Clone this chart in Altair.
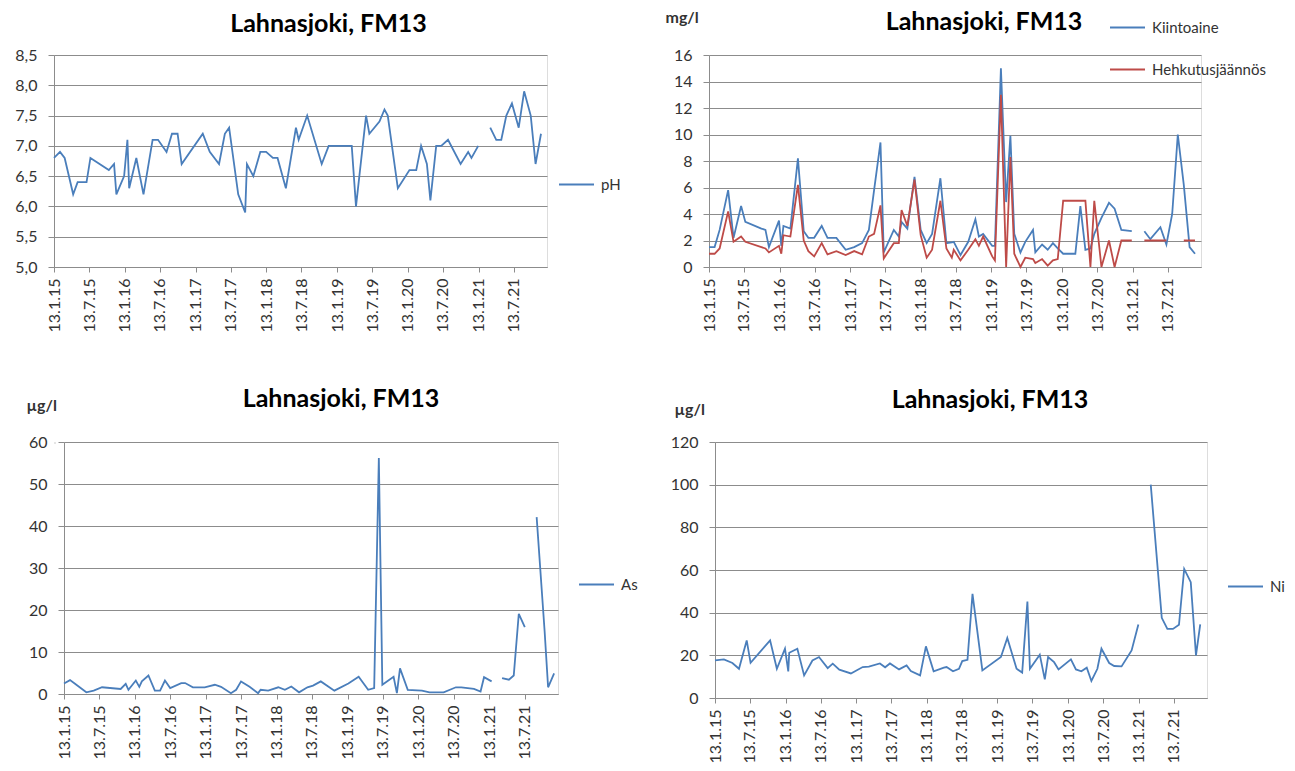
import altair as alt
import pandas as pd

# ---------------- pH ----------------
ph_dates = [
    "2015-01-13", "2015-02-13", "2015-03-09", "2015-04-22", "2015-05-15", "2015-06-30", "2015-07-20", "2015-10-23", "2015-11-19", "2015-12-01",
    "2016-01-10", "2016-01-27", "2016-02-05", "2016-03-13", "2016-04-19", "2016-06-05", "2016-07-03", "2016-08-16", "2016-09-13", "2016-10-12",
    "2016-11-02", "2017-02-19", "2017-03-27", "2017-05-14", "2017-06-13", "2017-07-05", "2017-08-21", "2017-09-26", "2017-10-05", "2017-11-07",
    "2017-12-13", "2018-01-12", "2018-02-16", "2018-03-12", "2018-04-24", "2018-06-15", "2018-06-29", "2018-08-12", "2018-10-26", "2018-12-01",
    "2019-03-30", "2019-04-21", "2019-06-12", "2019-06-29", "2019-08-20", "2019-09-15", "2019-10-02", "2019-11-23", "2020-01-22", "2020-02-26",
    "2020-03-22", "2020-04-21", "2020-05-09", "2020-06-08", "2020-07-04", "2020-08-08", "2020-10-12", "2020-11-20", "2020-12-07", "2021-01-11",
    "2021-02-10",
    "2021-03-14", "2021-04-14", "2021-05-10", "2021-06-05", "2021-07-04", "2021-08-08", "2021-09-05", "2021-10-09", "2021-11-03", "2021-12-01",
]
ph_values = [
    6.8, 6.9, 6.8, 6.2, 6.4, 6.4, 6.8, 6.6, 6.7, 6.2,
    6.5, 7.1, 6.3, 6.8, 6.2, 7.1, 7.1, 6.9, 7.2, 7.2,
    6.7, 7.2, 6.9, 6.7, 7.2, 7.3, 6.2, 5.9, 6.7, 6.5,
    6.9, 6.9, 6.8, 6.8, 6.3, 7.3, 7.1, 7.5, 6.7, 7.0,
    7.0, 6.0, 7.5, 7.2, 7.4, 7.6, 7.5, 6.3, 6.6, 6.6,
    7.0, 6.7, 6.1, 7.0, 7.0, 7.1, 6.7, 6.9, 6.8, 7.0,
    None,
    7.3, 7.1, 7.1, 7.5, 7.7, 7.3, 7.9, 7.5, 6.7, 7.2,
]

# ------- Kiintoaine / Hehkutusjäännös (mg/l) -------
solids_dates = [
    "2015-01-13", "2015-02-11", "2015-03-09", "2015-04-22", "2015-05-20", "2015-06-28", "2015-07-20", "2015-10-11", "2015-11-01", "2015-11-19",
    "2016-01-10", "2016-01-22", "2016-02-02", "2016-03-09", "2016-04-17", "2016-05-17", "2016-06-10", "2016-07-10", "2016-08-18", "2016-09-17",
    "2016-11-02", "2016-12-20", "2017-02-02", "2017-03-15", "2017-04-19", "2017-05-16", "2017-06-18", "2017-07-05", "2017-08-26", "2017-09-21",
    "2017-10-05", "2017-11-04", "2017-12-11", "2018-01-12", "2018-02-12", "2018-03-12", "2018-04-24", "2018-05-25", "2018-06-22", "2018-07-02",
    "2018-08-06", "2018-09-15", "2018-10-22", "2018-11-09", "2018-12-01", "2019-01-17", "2019-01-31", "2019-03-03", "2019-03-30", "2019-04-21",
    "2019-05-11", "2019-06-12", "2019-07-07", "2019-08-16", "2019-08-28", "2019-10-02", "2019-10-31", "2019-11-27", "2019-12-22", "2020-01-19",
    "2020-03-22", "2020-04-17", "2020-05-13", "2020-06-08", "2020-06-28", "2020-08-04", "2020-09-12", "2020-10-11", "2020-11-15", "2021-01-08",
    "2021-02-10", "2021-03-14", "2021-04-14", "2021-06-05", "2021-07-06", "2021-08-05", "2021-09-03", "2021-10-04", "2021-11-03", "2021-12-01",
]
kiintoaine = [
    1.5, 1.5, 2.8, 5.8, 2.2, 4.6, 3.4, 2.9, 2.8, 1.5,
    3.5, 1.6, 3.1, 2.9, 8.2, 2.7, 2.2, 2.2, 3.1, 2.2,
    2.2, 1.3, 1.5, 1.8, 2.8, 5.8, 9.4, 1.1, 2.8, 2.3,
    3.4, 2.9, 6.8, 2.8, 1.8, 2.5, 6.7, 1.8, 1.85, 1.9,
    0.9, 1.9, 3.6, 2.3, 2.5, 1.6, 1.6, 15.0, 4.9, 9.9,
    2.5, 1.1, 1.9, 2.8, 1.1, 1.7, 1.3, 1.8, 1.4, 1.0,
    1.0, 4.6, 1.3, 1.4, 2.5, 3.7, 4.85, 4.4, 2.8, 2.7,
    None, 2.7, 2.1, 3.0, 1.7, 4.0, 10.0, 6.2, 1.5, 1.0,
]
hehkutusjaannos = [
    1.0, 1.0, 1.4, 4.2, 1.9, 2.3, 1.9, 1.5, 1.4, 1.1,
    1.6, 1.0, 2.4, 2.3, 6.2, 2.0, 1.2, 0.8, 1.8, 0.95,
    1.2, 0.9, 1.2, 0.95, 2.3, 2.5, 4.65, 0.65, 1.8, 1.8,
    4.3, 3.1, 6.6, 2.4, 0.7, 1.3, 5.0, 1.4, 0.7, 1.3,
    0.5, 1.3, 2.1, 1.6, 2.3, 0.8, 0.5, 13.0, 0.0, 8.3,
    1.0, 0.0, 0.7, 0.6, 0.3, 0.6, 0.1, 0.5, 0.6, 5.0,
    5.0, 5.0, 5.0, 0.0, 5.0, 0.0, 2.0, 0.0, 2.0, 2.0,
    None, 2.0, 2.0, 2.0, 2.0, None, None, 2.0, 2.0, 2.0,
]

# ---------------- As (µg/l) ----------------
as_dates = [
    "2015-01-13", "2015-02-13", "2015-03-09", "2015-05-08", "2015-06-15", "2015-07-28", "2015-11-01", "2015-11-27", "2015-12-11", "2016-01-18",
    "2016-02-05", "2016-02-18", "2016-03-23", "2016-04-25", "2016-05-22", "2016-06-16", "2016-07-13", "2016-09-08", "2016-09-28", "2016-11-07",
    "2017-01-07", "2017-02-28", "2017-04-01", "2017-05-22", "2017-06-18", "2017-07-13", "2017-08-26", "2017-10-09", "2017-10-22", "2017-11-30",
    "2018-01-21", "2018-02-24", "2018-03-29", "2018-05-08", "2018-06-20", "2018-07-19", "2018-08-28", "2018-11-06", "2019-01-17", "2019-03-11",
    "2019-04-29", "2019-05-30", "2019-06-23", "2019-07-11", "2019-09-07", "2019-09-24", "2019-10-10", "2019-11-19", "2020-01-31", "2020-03-10",
    "2020-05-22", "2020-07-24", "2020-08-21", "2020-10-25", "2020-11-28", "2020-12-16", "2021-01-24", "2021-02-20", "2021-03-19", "2021-04-23",
    "2021-05-18", "2021-06-13", "2021-07-14", "2021-08-10", "2021-09-13", "2021-10-24", "2021-11-11", "2021-12-12",
]
as_values = [
    2.5, 3.3, 2.5, 0.4, 0.8, 1.6, 1.2, 2.4, 1.0, 3.2,
    1.7, 3.0, 4.4, 0.8, 0.8, 3.2, 1.4, 2.6, 2.6, 1.6,
    1.6, 2.2, 1.7, 0.2, 1.0, 3.0, 1.7, 0.2, 1.0, 0.8,
    1.6, 1.0, 1.8, 0.4, 1.6, 2.0, 3.0, 0.8, 2.5, 4.1,
    1.0, 1.4, 56.2, 2.2, 4.1, 0.2, 6.1, 1.0, 0.8, 0.4,
    0.4, 1.6, 1.6, 1.2, 0.6, 4.0, 3.0, None, 3.8, 3.4,
    4.4, 19.1, 15.9, None, 42.1, 15.0, 1.6, 4.9,
]

# ---------------- Ni (µg/l) ----------------
ni_dates = [
    "2015-01-13", "2015-02-28", "2015-04-13", "2015-05-17", "2015-06-26", "2015-07-16", "2015-10-25", "2015-11-29", "2016-01-10", "2016-01-27",
    "2016-02-01", "2016-03-14", "2016-04-18", "2016-05-31", "2016-07-04", "2016-08-18", "2016-09-13", "2016-10-17", "2016-12-16", "2017-02-15",
    "2017-03-19", "2017-05-15", "2017-06-11", "2017-07-06", "2017-08-22", "2017-09-30", "2017-10-22", "2017-12-09", "2018-01-08", "2018-02-17",
    "2018-04-11", "2018-04-25", "2018-05-28", "2018-06-28", "2018-07-15", "2018-08-11", "2018-09-06", "2018-10-27", "2019-01-31", "2019-03-05",
    "2019-04-22", "2019-05-21", "2019-06-17", "2019-06-30", "2019-08-20", "2019-09-15", "2019-10-02", "2019-11-02", "2019-11-25", "2020-01-28",
    "2020-02-23", "2020-03-22", "2020-04-19", "2020-05-13", "2020-06-13", "2020-07-04", "2020-08-13", "2020-09-08", "2020-10-16", "2020-12-07",
    "2021-01-11", "2021-02-10", "2021-03-16", "2021-05-12", "2021-06-10", "2021-07-09", "2021-08-09", "2021-09-05", "2021-10-09", "2021-11-05",
    "2021-11-27",
]
ni_values = [
    17.6, 18.1, 16.4, 13.7, 27.0, 16.5, 27.0, 13.7, 23.1, 12.5,
    21.2, 23.1, 10.6, 17.6, 19.2, 14.0, 16.1, 13.3, 11.5, 14.5,
    14.7, 16.2, 14.4, 16.2, 13.4, 15.3, 12.6, 10.6, 24.2, 12.5,
    14.2, 14.5, 12.5, 13.7, 17.3, 17.9, 48.8, 12.9, 19.2, 28.1,
    13.7, 11.9, 45.2, 13.7, 20.3, 8.7, 19.2, 16.8, 13.4, 18.1,
    13.4, 12.5, 14.2, 8.0, 13.7, 23.1, 16.4, 15.0, 14.8, 22.3,
    34.5, None, 100.0, 37.6, 32.4, 32.4, 34.3, 60.5, 54.3, 20.0,
    34.5,
]

TITLE = "Lahnasjoki, FM13"
BLUE = "#4a7ebb"
RED = "#be4b48"
GRID = "#8c8c8c"
TEXT = "#333333"
FONT = "Lato"
LABEL_SIZE = 16

# x axis: ticks on the 13th of January and July
tick_values = [alt.DateTime(year=y, month=m, date=13) for y in range(2015, 2022) for m in (1, 7)]
x_domain = [alt.DateTime(year=2015, month=1, date=13), alt.DateTime(year=2022, month=1, date=1)]


def frame(dates, **series):
    rows = []
    for name, values in series.items():
        for d, v in zip(dates, values):
            rows.append({"date": d, "series": name, "value": v})
    return pd.DataFrame(rows)


def panel(df, names, colors, y_domain, y_values, width, height, title_dx, title_dy,
          legend_x, legend_y, y_title=None, y_title_x=0, y_title_y=0,
          label_expr=None, legend_row_padding=0):
    x = alt.X(
        "date:T",
        scale=alt.Scale(domain=x_domain, nice=False),
        axis=alt.Axis(
            values=tick_values, format="%-d.%-m.%y", labelAngle=270,
            title=None, grid=False, tickSize=5, tickColor=GRID, domainColor=GRID,
            labelFontSize=LABEL_SIZE, labelColor=TEXT, labelPadding=6, labelOverlap=False,
            labelFont=FONT,
        ),
    )
    y_axis = dict(
        values=y_values, grid=True, gridColor=GRID, gridWidth=1.2,
        tickSize=6, tickColor=GRID, domainColor=GRID,
        labelFontSize=LABEL_SIZE, labelColor=TEXT, labelPadding=11, labelFont=FONT,
    )
    if label_expr:
        y_axis["labelExpr"] = label_expr
    if y_title:
        y_axis.update(
            title=y_title, titleAngle=0, titleAlign="left", titleBaseline="middle",
            titleX=y_title_x, titleY=y_title_y, titleFontSize=16, titleFont=FONT,
            titleFontWeight="bold", titleColor=TEXT,
        )
    else:
        y_axis["title"] = None
    y = alt.Y(
        "value:Q",
        scale=alt.Scale(domain=y_domain, nice=False, zero=False),
        axis=alt.Axis(**y_axis),
    )
    color = alt.Color(
        "series:N",
        scale=alt.Scale(domain=names, range=colors),
        legend=alt.Legend(
            title=None, orient="none", legendX=legend_x, legendY=legend_y,
            symbolType="stroke", symbolSize=1225, symbolStrokeWidth=2,
            labelFontSize=15, labelColor=TEXT, labelFont=FONT, labelOffset=6,
            rowPadding=legend_row_padding, padding=0,
        ),
    )
    return (
        alt.Chart(df)
        .mark_line(strokeWidth=1.8, invalid="break-paths-filter-domains")
        .encode(x=x, y=y, color=color)
        .properties(
            width=width, height=height,
            title=alt.TitleParams(
                TITLE, fontSize=25, font=FONT, fontWeight="bold", color="#000000",
                anchor="middle", dx=title_dx, dy=title_dy, offset=10,
            ),
        )
    )


p_ph = panel(
    frame(ph_dates, pH=ph_values), ["pH"], [BLUE],
    [5.0, 8.5], [5.0, 5.5, 6.0, 6.5, 7.0, 7.5, 8.0, 8.5], 493, 212, 28, 0,
    504, 111, label_expr="replace(format(datum.value, '.1f'), '.', ',')",
)
p_solids = panel(
    frame(solids_dates, Kiintoaine=kiintoaine, **{"Hehkutusjäännös": hehkutusjaannos}),
    ["Kiintoaine", "Hehkutusjäännös"], [BLUE, RED],
    [0, 16], list(range(0, 17, 2)), 492, 212, 29, 36,
    400, -46, y_title="mg/l", y_title_x=-44, y_title_y=-38, legend_row_padding=15,
)
p_as = panel(
    frame(as_dates, As=as_values), ["As"], [BLUE],
    [0, 60], list(range(0, 61, 10)), 494, 252, 30, 25,
    514, 124, y_title="µg/l", y_title_x=-38, y_title_y=-37,
)
p_ni = panel(
    frame(ni_dates, Ni=ni_values), ["Ni"], [BLUE],
    [0, 120], list(range(0, 121, 20)), 492, 256, 29, 22,
    512, 126, y_title="µg/l", y_title_x=-41, y_title_y=-33,
)

# narrow blank cell that indents the lower row a little
indent = (
    alt.Chart(alt.Data(values=[{}]))
    .mark_point(opacity=0)
    .encode(x=alt.value(0), y=alt.value(0))
    .properties(width=1, height=1)
)

top_row = (
    alt.hconcat(p_ph, p_solids, spacing=162, bounds="flush")
    .resolve_scale(color="independent")
    .resolve_legend(color="independent")
)
bottom_pair = (
    alt.hconcat(p_as, p_ni, spacing=157, bounds="flush")
    .resolve_scale(color="independent")
    .resolve_legend(color="independent")
)
bottom_row = (
    alt.hconcat(indent, bottom_pair, spacing=9, bounds="flush")
    .resolve_scale(color="independent")
    .resolve_legend(color="independent")
)

chart = (
    alt.vconcat(top_row, bottom_row, spacing=53)
    .resolve_scale(color="independent")
    .resolve_legend(color="independent")
    .properties(padding={"left": 14, "top": 8, "right": 5, "bottom": 5})
    .configure_view(stroke=None)
    .configure(font=FONT)
)

chart.save("out.html", embed_options={"renderer": "svg", "actions": False})
